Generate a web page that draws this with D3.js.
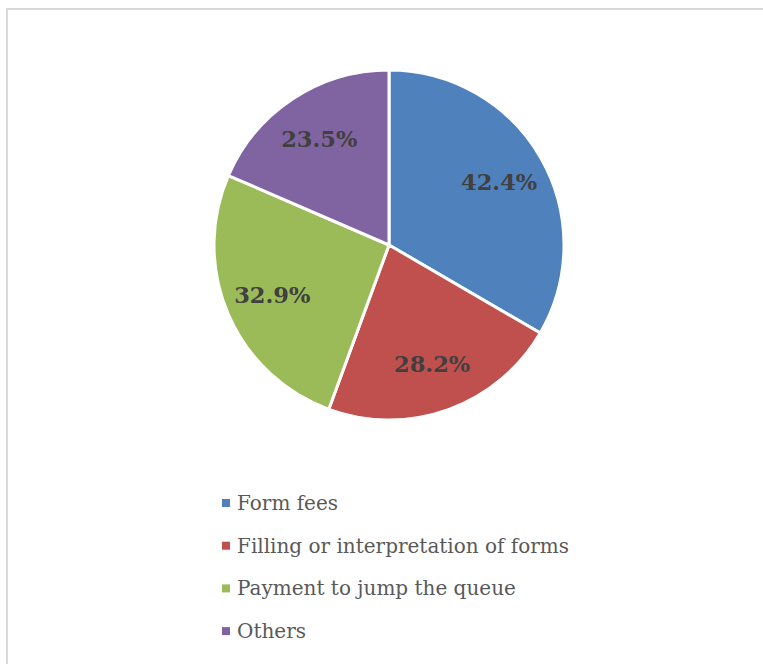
<!DOCTYPE html>
<html>
<head>
<meta charset="utf-8">
<script src="https://cdn.jsdelivr.net/npm/d3@7"></script>
<style>
  html, body { margin: 0; padding: 0; background: #fff; }
  svg { display: block; }
</style>
</head>
<body>
<svg id="chart" width="763" height="664"></svg>
<script>
"use strict"

const categories = ["Form fees", "Filling or interpretation of forms", "Payment to jump the queue", "Others"]
const values = [42.4, 28.2, 32.9, 23.5]
const labels = ["42.4%", "28.2%", "32.9%", "23.5%"]
const colors = ["#4f81bd", "#c0504d", "#9bbb59", "#8064a2"]

const svg = d3.select("#chart")
const cx = 389, cy = 245, radius = 175

// chart area border (only top and left visible in the frame)
svg.append("rect")
  .attr("x", 7).attr("y", 9)
  .attr("width", 800).attr("height", 700)
  .attr("fill", "none")
  .attr("stroke", "#d9d9d9")
  .attr("stroke-width", 2)

const pie = d3.pie().sort(null).value(d => d)
const arcs = pie(values)
const arc = d3.arc().innerRadius(0).outerRadius(radius)
const labelArc = d3.arc().innerRadius(127).outerRadius(127)

const g = svg.append("g").attr("transform", "translate(" + cx + "," + cy + ")")

g.selectAll("path").data(arcs).enter()
  .append("path")
  .attr("d", arc)
  .attr("fill", (d, i) => colors[i])
  .attr("stroke", "white")
  .attr("stroke-width", 3)
  .attr("stroke-linejoin", "round")

g.selectAll("text").data(arcs).enter()
  .append("text")
  .attr("transform", d => "translate(" + labelArc.centroid(d) + ")")
  .attr("text-anchor", "middle")
  .attr("dy", "0.35em")
  .attr("font-family", "'DejaVu Serif', serif")
  .attr("font-weight", "bold")
  .attr("font-size", 22.5)
  .attr("fill", "#404040")
  .text((d, i) => labels[i])

// legend
const legend = svg.append("g").attr("transform", "translate(222,0)")
const rows = legend.selectAll("g").data(categories).enter()
  .append("g")
  .attr("transform", (d, i) => "translate(0," + (503 + i * 42.7) + ")")
rows.append("rect")
  .attr("x", 0).attr("y", -4)
  .attr("width", 8).attr("height", 8)
  .attr("fill", (d, i) => colors[i])
rows.append("text")
  .attr("x", 15)
  .attr("dy", "0.35em")
  .attr("font-family", "'DejaVu Serif', serif")
  .attr("font-size", 20)
  .attr("fill", "#595959")
  .text(d => d)
</script>
</body>
</html>
